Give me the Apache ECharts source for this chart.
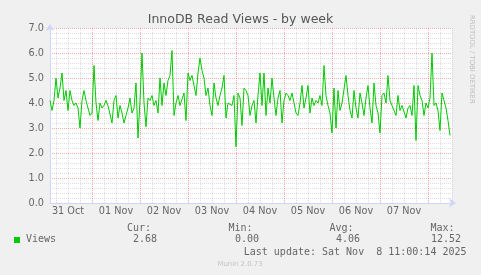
<!DOCTYPE html>
<html><head><meta charset="utf-8">
<script src="https://cdn.jsdelivr.net/npm/echarts@6/dist/echarts.min.js"></script>
<style>html,body{margin:0;padding:0;background:#f0f0f0}#c{width:481px;height:275px}</style>
</head><body><div id="c"></div>
<script>
// hours counted from 31 Oct 00:00; one value per hour
const startHour = 3;
const endHour = 204;
const views = [
 4.1,3.7,4.1,5.0,4.2,4.6,5.2,4.1,4.5,3.7,4.5,4.1,3.9,4.0,3.8,3.0,4.1,4.5,4.1,3.8,3.5,3.6,5.5,4.0,3.3,4.0,3.8,3.9,4.1,3.9,
 3.9,3.2,4.1,4.3,3.4,3.9,3.6,3.2,3.5,3.8,4.2,3.6,3.8,4.8,2.6,4.1,6.0,4.0,3.05,4.2,4.1,4.3,3.9,4.1,3.6,5.0,3.9,4.8,4.3,4.9,
 5.1,6.1,3.5,4.0,4.3,3.9,3.9,4.4,3.3,5.2,4.9,5.1,4.7,4.3,5.2,5.8,5.3,5.0,4.3,4.6,3.9,3.5,4.8,4.2,3.9,4.3,4.6,5.1,3.4,4.0,
 4.0,3.9,4.3,2.25,4.4,4.2,3.1,4.6,4.5,4.3,3.5,3.9,4.1,3.2,4.3,5.2,3.9,5.2,3.5,4.6,4.0,5.0,4.2,3.5,4.2,4.5,3.2,4.1,4.4,4.3,
 4.1,4.4,4.0,3.6,3.5,4.0,4.7,3.8,4.2,4.7,3.6,4.2,3.9,4.1,4.0,4.3,3.9,5.5,4.3,3.9,3.6,2.8,4.6,3.0,4.5,3.7,4.0,4.0,5.1,4.3,
 3.7,3.4,4.5,3.8,3.4,4.4,4.0,3.5,4.2,4.7,3.8,3.2,4.8,3.9,3.6,2.8,4.3,4.4,4.0,5.1,4.1,3.9,3.9,3.5,4.3,3.7,3.9,3.9,3.4,3.8,
 3.9,3.5,4.7,2.5,4.7,4.3,4.1,3.5,4.0,3.8,4.2,6.0,3.9,4.0,3.7,2.9,4.4,4.1,3.8,3.3,2.7
];
const dayLabels = ['31 Oct','01 Nov','02 Nov','03 Nov','04 Nov','05 Nov','06 Nov','07 Nov'];
const dayLabelHours = [12,36,60,84,108,132,156,180];
const dayHours = [24,48,72,96,120,144,168,192];
const minorHours = [6,12,18,30,36,42,54,60,66,78,84,90,102,108,114,126,132,138,150,156,162,174,180,186,198,204];
const yMin = 0, yMax = 7, yStep = 1;
const statNames = ['Cur:','Min:','Avg:','Max:'];
const statValues = ['2.68','0.00','4.06','12.52'];
const seriesName = 'Views';
const titleText = 'InnoDB Read Views - by week';
const updateText = 'Last update: Sat Nov  8 11:00:14 2025';
const footerText = 'Munin 2.0.73';
const sideText = 'RRDTOOL / TOBI OETIKER';

const data = views.map((v, i) => [startHour + i, v]);
const fontColor = '#666';
const axisColor = '#cfd6f8';
const minorGrid = 'rgba(160,160,160,0.35)';
const majorGrid = 'rgba(235,90,90,0.5)';

const chart = echarts.init(document.getElementById('c'), null, {renderer: 'canvas'});
const baseX = {type: 'value', min: startHour, max: endHour, position: 'bottom', gridIndex: 0};
const mono = 'DejaVu Sans Mono';
const statX1 = [151, 252.5, 353.5, 454.5];
const statX2 = [157, 259, 360, 461];
const graphics = [
  {type: 'text', style: {x: 240.5, y: 20, text: titleText, textAlign: 'center', textVerticalAlign: 'middle', font: '12.5px "DejaVu Sans"', fill: '#555'}},
  {type: 'text', rotation: -Math.PI / 2, x: 472, y: 15, style: {x: 0, y: 0, text: sideText, textAlign: 'left', textVerticalAlign: 'middle', font: '6.9px "DejaVu Sans"', fill: '#bdbdbd'}},
  {type: 'rect', shape: {x: 14, y: 237, width: 6, height: 6}, style: {fill: '#00cc00'}},
  {type: 'text', style: {x: 26, y: 239.5, text: seriesName, textAlign: 'left', textVerticalAlign: 'middle', font: '10px "' + mono + '"', fill: fontColor}},
  {type: 'text', style: {x: 466.5, y: 252, text: updateText, textAlign: 'right', textVerticalAlign: 'middle', font: '10px "' + mono + '"', fill: fontColor}},
  {type: 'text', style: {x: 240, y: 264.5, text: footerText, textAlign: 'center', textVerticalAlign: 'middle', font: '6.9px "DejaVu Sans"', fill: '#c4c4c4'}}
];
statNames.forEach((n, i) => {
  graphics.push({type: 'text', style: {x: statX1[i], y: 228, text: n, textAlign: 'right', textVerticalAlign: 'middle', font: '10px "' + mono + '"', fill: fontColor}});
  graphics.push({type: 'text', style: {x: statX2[i], y: 239.5, text: statValues[i], textAlign: 'right', textVerticalAlign: 'middle', font: '10px "' + mono + '"', fill: fontColor}});
});

chart.setOption({
  animation: false,
  backgroundColor: '#f0f0f0',
  grid: {left: 50, top: 28, width: 402, height: 175, show: true, backgroundColor: '#ffffff', borderWidth: 0, containLabel: false},
  xAxis: [
    Object.assign({}, baseX, {
      axisLine: {show: true, lineStyle: {color: axisColor, width: 1}, symbol: ['none', 'arrow'], symbolSize: [7, 7], symbolOffset: [0, 4]},
      axisTick: {show: false, customValues: dayLabelHours},
      axisLabel: {show: true, customValues: dayLabelHours, margin: 3, color: fontColor, fontFamily: 'DejaVu Sans', fontSize: 9.7,
        formatter: v => dayLabels[dayLabelHours.indexOf(v)] || ''},
      splitLine: {show: false}
    }),
    Object.assign({}, baseX, {
      axisLine: {show: false}, axisLabel: {show: false},
      axisTick: {show: false, customValues: minorHours},
      splitLine: {show: true, lineStyle: {color: minorGrid, width: 1, type: [1, 1]}}
    }),
    Object.assign({}, baseX, {
      axisLine: {show: false}, axisLabel: {show: false},
      axisTick: {show: false, customValues: dayHours},
      splitLine: {show: true, lineStyle: {color: majorGrid, width: 1, type: [1, 1]}}
    })
  ],
  yAxis: {
    type: 'value', min: yMin, max: yMax, interval: yStep,
    axisLine: {show: true, lineStyle: {color: axisColor, width: 1}, symbol: ['none', 'arrow'], symbolSize: [7, 7], symbolOffset: [0, 4]},
    axisTick: {show: false},
    axisLabel: {margin: 6, color: fontColor, fontFamily: 'DejaVu Sans', fontSize: 9.7, formatter: v => v.toFixed(1)},
    splitLine: {show: true, lineStyle: {color: majorGrid, width: 1, type: [1, 1]}},
    minorTick: {show: false, splitNumber: 5},
    minorSplitLine: {show: true, lineStyle: {color: minorGrid, width: 1, type: [1, 1]}}
  },
  series: [{
    name: seriesName, type: 'line', xAxisIndex: 0, data: data, showSymbol: false, symbol: 'none',
    lineStyle: {color: '#00cc00', width: 1}, z: 5
  }],
  graphic: graphics
});
</script></body></html>
